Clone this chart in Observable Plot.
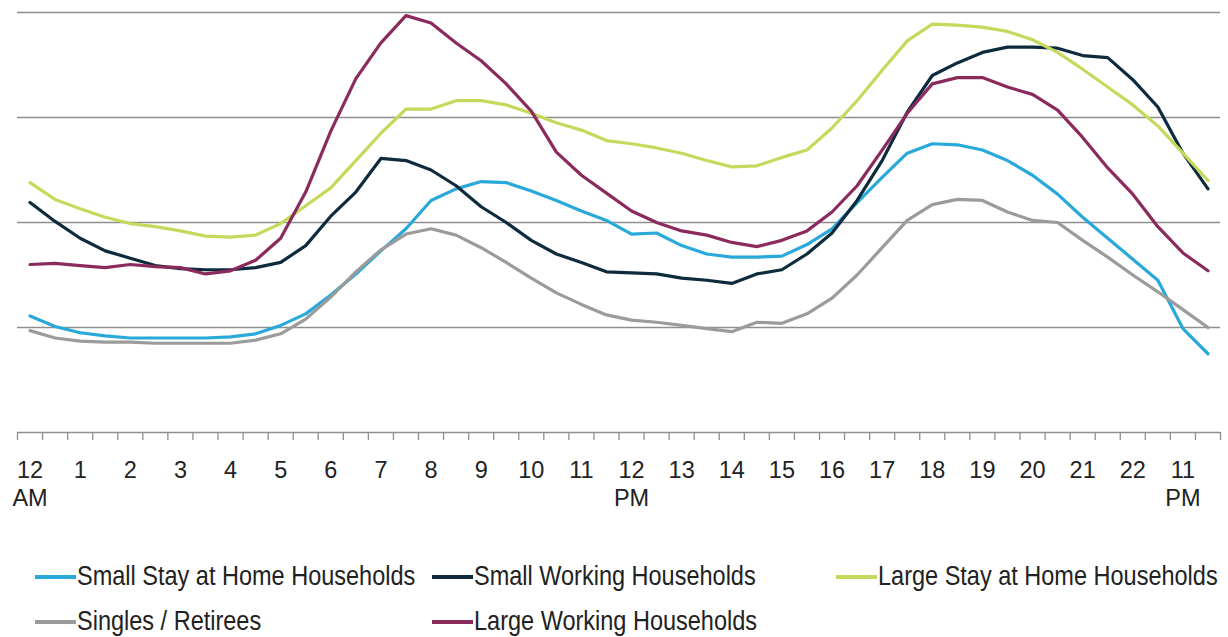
<!DOCTYPE html>
<html>
<head>
<meta charset="utf-8">
<script src="https://cdn.jsdelivr.net/npm/d3@7"></script>
<script src="https://cdn.jsdelivr.net/npm/@observablehq/plot@0.6"></script>
<style>
  html, body { margin: 0; padding: 0; background: #fff; }
  #wrap { position: relative; width: 1228px; height: 637px; font-family: "Liberation Sans", Arial, sans-serif; color: #222; }
  #chart { position: absolute; left: 0; top: 0; }
  .leg { position: absolute; display: flex; align-items: center; font-size: 23.5px; white-space: nowrap; }
  .leg .txt { display: inline-block; transform: scaleY(1.15); }
  .sw { display: inline-block; width: 41px; height: 4px; margin-right: 1px; }
</style>
</head>
<body>
<div id="wrap">
  <div id="chart"></div>
  <div id="legend"></div>
</div>
<script>
// Half-hour slots, 0 = 12:00 AM ... 47 = 11:30 PM
const slots = d3.range(48);

// X tick labels (every hour)
const tickLabels = ["12\nAM","1","2","3","4","5","6","7","8","9","10","11",
                    "12\nPM","13","14","15","16","17","18","19","20","21","22","11\nPM"];

// Series names and colours
const seriesNames = ["Small Stay at Home Households","Small Working Households","Large Stay at Home Households","Singles / Retirees","Large Working Households"];
const seriesColors = ["#29a9da","#0e2b3d","#c6d95c","#9b9b9b","#8b2b5d"];

// Values (relative load, gridlines at 1,2,3,4)
const smallStay = [1.11,1.01,0.95,0.92,0.90,0.90,0.90,0.90,0.91,0.94,1.02,1.13,1.31,1.51,1.73,1.94,
                   2.21,2.32,2.39,2.38,2.30,2.21,2.11,2.02,1.89,1.90,1.78,1.70,1.67,1.67,1.68,1.79,
                   1.94,2.19,2.43,2.66,2.75,2.74,2.69,2.59,2.45,2.27,2.05,1.85,1.65,1.45,0.99,0.75];
const smallWorking = [2.19,2.01,1.85,1.73,1.66,1.59,1.56,1.55,1.55,1.57,1.62,1.78,2.06,2.29,2.61,2.59,
                      2.50,2.35,2.15,2.00,1.83,1.70,1.62,1.53,1.52,1.51,1.47,1.45,1.42,1.51,1.55,1.70,
                      1.90,2.21,2.59,3.05,3.40,3.52,3.62,3.67,3.67,3.66,3.59,3.57,3.36,3.10,2.66,2.32];
const largeStay = [2.38,2.22,2.13,2.05,1.99,1.96,1.92,1.87,1.86,1.88,1.99,2.16,2.33,2.59,2.85,3.08,
                   3.08,3.16,3.16,3.12,3.04,2.95,2.88,2.78,2.75,2.71,2.66,2.59,2.53,2.54,2.62,2.69,
                   2.90,3.16,3.45,3.73,3.89,3.88,3.86,3.82,3.74,3.62,3.46,3.29,3.12,2.92,2.66,2.40];
const singles = [0.97,0.90,0.87,0.86,0.86,0.85,0.85,0.85,0.85,0.88,0.94,1.08,1.29,1.53,1.74,1.89,
                 1.94,1.88,1.76,1.62,1.47,1.33,1.22,1.12,1.07,1.05,1.02,0.99,0.96,1.05,1.04,1.13,
                 1.28,1.50,1.76,2.02,2.17,2.22,2.21,2.10,2.02,2.00,1.83,1.67,1.50,1.34,1.17,1.00];
const largeWorking = [1.60,1.61,1.59,1.57,1.60,1.58,1.57,1.51,1.54,1.64,1.85,2.29,2.87,3.37,3.71,3.97,
                      3.90,3.71,3.54,3.32,3.06,2.67,2.45,2.28,2.11,2.00,1.92,1.88,1.81,1.77,1.83,1.92,
                      2.10,2.35,2.69,3.04,3.32,3.38,3.38,3.29,3.22,3.07,2.81,2.52,2.27,1.96,1.71,1.54];

const seriesValues = [smallStay, smallWorking, largeStay, singles, largeWorking];
const gridValues = [1, 2, 3, 4];

const data = [];
seriesValues.forEach((vals, s) => vals.forEach((v, i) => data.push({slot: slots[i], value: v, series: seriesNames[s]})));

const boundaries = d3.range(49).map(i => i - 0.5);
const labelSlots = tickLabels.map((_, k) => k * 2);

const chart = Plot.plot({
  width: 1228,
  height: 530,
  marginLeft: 17,
  marginRight: 8,
  marginTop: 12,
  marginBottom: 98,
  style: {fontFamily: "'Liberation Sans', Arial, sans-serif", color: "#222", background: "#fff"},
  x: {domain: [-0.5, 47.5]},
  y: {domain: [0, 4], axis: null},
  color: {domain: seriesNames, range: seriesColors},
  marks: [
    Plot.ruleY(gridValues, {stroke: "#8e8e8e", strokeWidth: 1.3}),
    Plot.ruleY([0], {stroke: "#8e8e8e", strokeWidth: 1.3}),
    Plot.axisX(boundaries, {tickSize: 8, tickFormat: () => "", label: null, stroke: "#8e8e8e", strokeWidth: 1.3}),
    Plot.axisX(labelSlots, {tickSize: 0, tickPadding: 25, fontSize: 23.5, lineHeight: 1.2, label: null,
      tickFormat: d => tickLabels[d / 2], fill: "#222"}),
    Plot.line(data, {x: "slot", y: "value", z: "series", stroke: "series", strokeWidth: 3.2, curve: "linear"})
  ]
});
document.getElementById("chart").appendChild(chart);

// Legend
const legendPos = [
  {s: 0, left: 35, top: 563},
  {s: 1, left: 432, top: 563},
  {s: 2, left: 836, top: 563},
  {s: 3, left: 35, top: 608},
  {s: 4, left: 432, top: 608}
];
const legend = document.getElementById("legend");
legendPos.forEach(p => {
  const d = document.createElement("div");
  d.className = "leg";
  d.style.left = p.left + "px";
  d.style.top = p.top + "px";
  const sw = document.createElement("span");
  sw.className = "sw";
  sw.style.background = seriesColors[p.s];
  d.appendChild(sw);
  const t = document.createElement("span");
  t.className = "txt";
  t.textContent = seriesNames[p.s];
  d.appendChild(t);
  legend.appendChild(d);
});
</script>
</body>
</html>
